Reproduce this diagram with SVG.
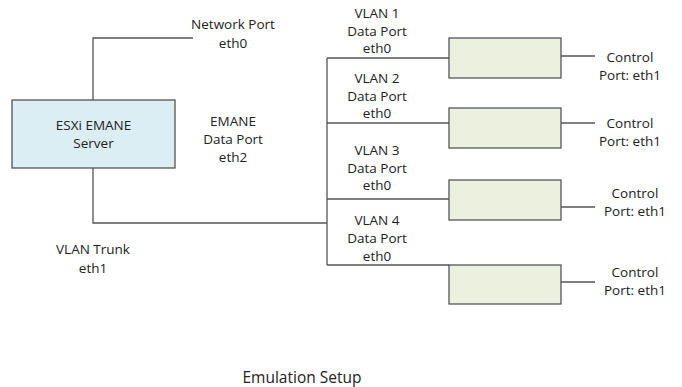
<svg xmlns="http://www.w3.org/2000/svg" width="682" height="387" viewBox="0 0 682 387">
<style>
.t{font-family:"Open Sans","Noto Sans",sans-serif;font-size:13.5px;fill:#222;text-anchor:middle}
.c{fill:none;stroke:#555;stroke-width:1.3}
.srv{fill:#DAEEF3;stroke:#555;stroke-width:1.3}
.vm{fill:#EBF1DE;stroke:#555;stroke-width:1.3}
</style>
<rect width="682" height="387" fill="#fff"/>
<g id="connectors">
<polyline class="c" points="93,100 93,38 193,38"/>
<polyline class="c" points="93,168 93,223 327,223"/>
<line class="c" x1="327" y1="58" x2="327" y2="265"/>
<line class="c" x1="327" y1="58" x2="449" y2="58"/>
<line class="c" x1="327" y1="123" x2="449" y2="123"/>
<line class="c" x1="327" y1="199" x2="449" y2="199"/>
<line class="c" x1="327" y1="265" x2="449" y2="265"/>
<line class="c" x1="561" y1="56" x2="595" y2="56"/>
<line class="c" x1="561" y1="123" x2="595" y2="123"/>
<line class="c" x1="561" y1="207" x2="595" y2="207"/>
<line class="c" x1="561" y1="282" x2="595" y2="282"/>
</g>
<g id="server">
<rect class="srv" x="12" y="100" width="163" height="68"/>
<text class="t" x="93.5" y="130">ESXi EMANE</text>
<text class="t" x="93.5" y="148">Server</text>
</g>
<g id="vm1"><rect class="vm" x="449" y="38" width="112" height="40"/></g>
<g id="vm2"><rect class="vm" x="449" y="108" width="112" height="40"/></g>
<g id="vm3"><rect class="vm" x="449" y="180" width="112" height="40"/></g>
<g id="vm4"><rect class="vm" x="449" y="265" width="112" height="39"/></g>
<g id="labels">
<text class="t" x="233" y="29">Network Port</text>
<text class="t" x="233" y="48">eth0</text>
<text class="t" x="233" y="126">EMANE</text>
<text class="t" x="233" y="144">Data Port</text>
<text class="t" x="233" y="162">eth2</text>
<text class="t" x="93" y="254">VLAN Trunk</text>
<text class="t" x="93" y="273">eth1</text>
<text class="t" x="377" y="18">VLAN 1</text>
<text class="t" x="377" y="35.5">Data Port</text>
<text class="t" x="377" y="53">eth0</text>
<text class="t" x="377" y="83">VLAN 2</text>
<text class="t" x="377" y="100.5">Data Port</text>
<text class="t" x="377" y="118">eth0</text>
<text class="t" x="377" y="155">VLAN 3</text>
<text class="t" x="377" y="172.5">Data Port</text>
<text class="t" x="377" y="190">eth0</text>
<text class="t" x="377" y="225">VLAN 4</text>
<text class="t" x="377" y="243">Data Port</text>
<text class="t" x="377" y="261">eth0</text>
<text class="t" x="630" y="62">Control</text>
<text class="t" x="630" y="80">Port: eth1</text>
<text class="t" x="630" y="128">Control</text>
<text class="t" x="630" y="145.5">Port: eth1</text>
<text class="t" x="635" y="198">Control</text>
<text class="t" x="635" y="216">Port: eth1</text>
<text class="t" x="635" y="277">Control</text>
<text class="t" x="635" y="295">Port: eth1</text>
<text class="t" x="302" y="383" style="font-size:15.5px">Emulation Setup</text>
</g>
</svg>
